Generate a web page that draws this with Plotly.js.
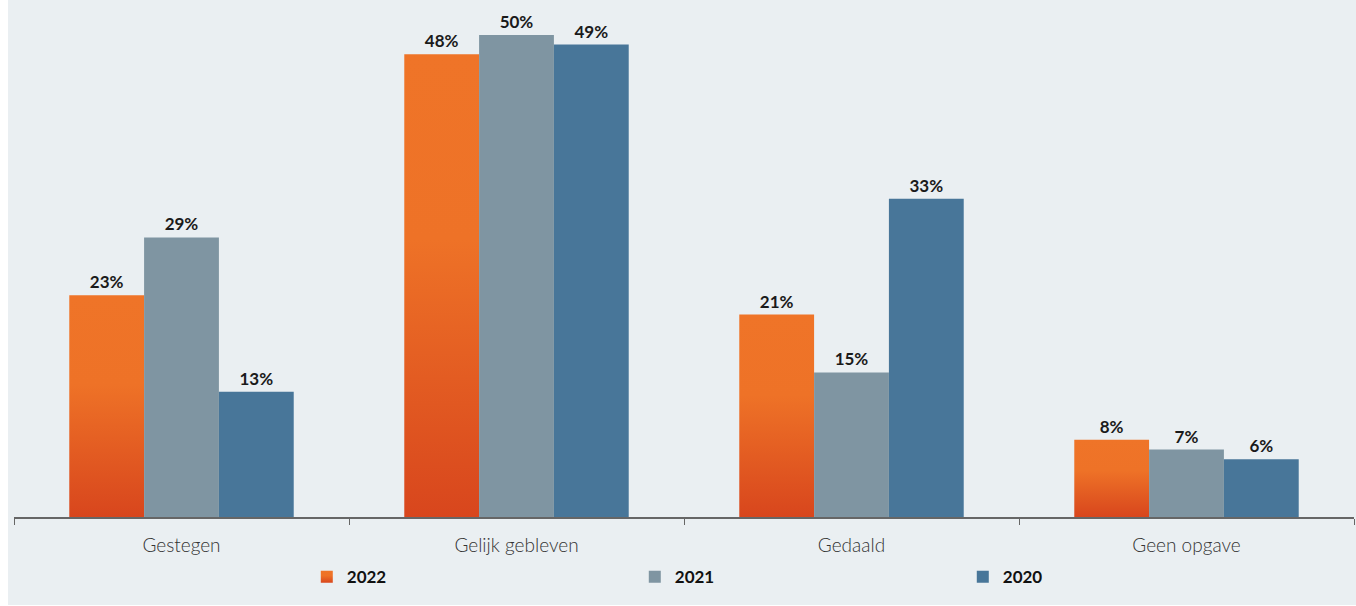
<!DOCTYPE html>
<html>
<head>
<meta charset="utf-8">
<script src="https://cdn.plot.ly/plotly-3.0.1.min.js"></script>
<style>
  html, body { margin: 0; padding: 0; background: #ffffff; }
  #chart { position: absolute; left: 8px; top: 0; width: 1348px; height: 605px; }
</style>
</head>
<body>
<div id="chart"></div>
<script>
const categories = ["Gestegen", "Gelijk gebleven", "Gedaald", "Geen opgave"];
const values2022 = [23, 48, 21, 8];
const values2021 = [29, 50, 15, 7];
const values2020 = [13, 49, 33, 6];
const seriesNames = ["2022", "2021", "2020"];

const colors = ["#ef7227", "#7f95a2", "#487699"];
const labelFont = { family: "Lato, 'Open Sans', sans-serif", size: 17, color: "#1a1a1a", weight: 700 };

function mk(name, vals, color) {
  return {
    type: "bar",
    name: name,
    x: categories,
    y: vals,
    text: vals.map(v => v + "%"),
    textposition: "outside",
    textfont: labelFont,
    cliponaxis: false,
    marker: { color: color, line: { width: 0 } },
    hoverinfo: "skip"
  };
}

const data = [
  mk(seriesNames[0], values2022, colors[0]),
  mk(seriesNames[1], values2021, colors[1]),
  mk(seriesNames[2], values2020, colors[2])
];

const layout = {
  width: 1348,
  height: 605,
  margin: { l: 6, r: 2, t: 6, b: 88 },
  paper_bgcolor: "#eaeff2",
  plot_bgcolor: "#eaeff2",
  barmode: "group",
  bargap: 0.33,
  bargroupgap: 0,
  showlegend: true,
  legend: {
    orientation: "h",
    x: 0.2185, xanchor: "left",
    y: -0.118, yanchor: "middle",
    entrywidth: 283,
    entrywidthmode: "pixels",
    font: { family: "Lato, 'Open Sans', sans-serif", size: 17, color: "#111111", weight: 700 },
    bgcolor: "rgba(0,0,0,0)",
    traceorder: "normal"
  },
  xaxis: {
    type: "category",
    tickson: "boundaries",
    ticks: "outside",
    ticklen: 6,
    tickcolor: "#666666",
    showline: true,
    linecolor: "#666666",
    linewidth: 2,
    showgrid: false,
    ticklabelstandoff: 10,
    tickfont: { family: "Lato, 'Open Sans', sans-serif", size: 19, color: "#333333", weight: 300 },
    fixedrange: true
  },
  yaxis: {
    range: [0, 53],
    visible: false,
    showgrid: false,
    zeroline: false,
    fixedrange: true
  }
};

Plotly.newPlot("chart", data, layout, { displayModeBar: false, staticPlot: true }).then(function (gd) {
  const svg = gd.querySelector("svg.main-svg");
  const ns = "http://www.w3.org/2000/svg";
  let defs = svg.querySelector("defs");
  if (!defs) { defs = document.createElementNS(ns, "defs"); svg.insertBefore(defs, svg.firstChild); }
  const grad = document.createElementNS(ns, "linearGradient");
  grad.setAttribute("id", "grad2022");
  grad.setAttribute("x1", "0"); grad.setAttribute("y1", "0");
  grad.setAttribute("x2", "0"); grad.setAttribute("y2", "1");
  [["0", "#ef7428"], ["0.4", "#ee7227"], ["1", "#d8461d"]].forEach(function (s) {
    const st = document.createElementNS(ns, "stop");
    st.setAttribute("offset", s[0]);
    st.setAttribute("stop-color", s[1]);
    grad.appendChild(st);
  });
  defs.appendChild(grad);
  const traces = gd.querySelectorAll(".barlayer .trace");
  if (traces[0]) traces[0].querySelectorAll("path").forEach(function (p) { p.style.fill = "url(#grad2022)"; });
  const legendTraces = gd.querySelectorAll(".legend .traces");
  if (legendTraces[0]) legendTraces[0].querySelectorAll(".legendpoints path").forEach(function (p) { p.style.fill = "url(#grad2022)"; });
});
</script>
</body>
</html>
